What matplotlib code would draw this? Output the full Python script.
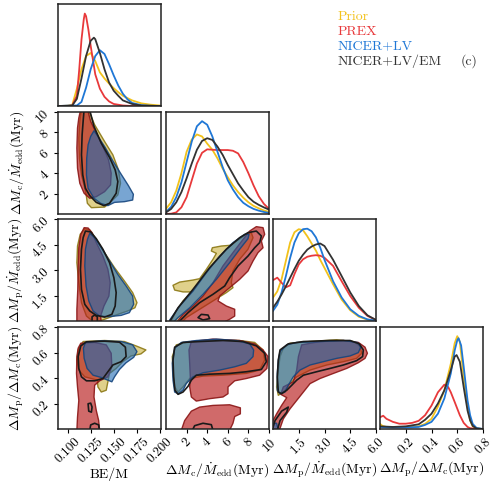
import matplotlib
matplotlib.use("Agg")
import matplotlib.pyplot as plt
from matplotlib.patches import Polygon
from matplotlib.colors import to_rgba

plt.rcParams["font.family"] = "serif"
plt.rcParams["font.serif"] = ["cmr10"]
plt.rcParams["mathtext.fontset"] = "cm"
plt.rcParams["axes.unicode_minus"] = False

# ---- axis setup --------------------------------------------------------
limits = [(0.0895, 0.2014), (0, 10), (0, 6), (0, 0.8)]
ticks = [[0.100, 0.125, 0.150, 0.175, 0.200], [2, 4, 6, 8, 10], [1.5, 3.0, 4.5, 6.0], [0.2, 0.4, 0.6, 0.8]]
tick_labels = [["0.100", "0.125", "0.150", "0.175", "0.200"], ["2", "4", "6", "8", "10"],
               ["1.5", "3.0", "4.5", "6.0"], ["0.2", "0.4", "0.6", "0.8"]]
axis_labels = [r"BE/M",
               r"$\Delta M_{\rm c}/\dot{M}_{\rm edd}({\rm Myr})$",
               r"$\Delta M_{\rm p}/\dot{M}_{\rm edd}({\rm Myr})$",
               r"$\Delta M_{\rm p}/\Delta M_{\rm c}({\rm Myr})$"]

names = ["Prior", "PREX", "NICER+LV", "NICER+LV/EM"]
line_colors = ["#f2c21b", "#e8393b", "#1f77d6", "#333333"]

# ---- 1D marginals (relative heights) ----------------------------------
bem_x_prior = [0.090, 0.100, 0.105, 0.110, 0.115, 0.120, 0.125, 0.130, 0.135, 0.140, 0.145, 0.150, 0.155, 0.160, 0.170, 0.180, 0.190, 0.200]
bem_y_prior = [0, 0.002, 0.01, 0.17, 0.36, 0.49, 0.52, 0.44, 0.33, 0.27, 0.22, 0.175, 0.135, 0.10, 0.055, 0.026, 0.013, 0.005]
bem_x_prex = [0.090, 0.100, 0.105, 0.110, 0.1125, 0.115, 0.1175, 0.1186, 0.120, 0.1225, 0.125, 0.130, 0.135, 0.140, 0.145, 0.150, 0.160, 0.170, 0.200]
bem_y_prex = [0, 0, 0.005, 0.10, 0.35, 0.65, 0.85, 0.906, 0.88, 0.75, 0.59, 0.31, 0.17, 0.09, 0.045, 0.02, 0.005, 0, 0]
bem_x_nicer = [0.090, 0.110, 0.115, 0.120, 0.125, 0.130, 0.135, 0.140, 0.145, 0.150, 0.155, 0.160, 0.165, 0.170, 0.180, 0.190, 0.200]
bem_y_nicer = [0, 0.005, 0.04, 0.18, 0.36, 0.49, 0.547, 0.51, 0.41, 0.30, 0.20, 0.12, 0.065, 0.03, 0.008, 0.002, 0]
bem_x_em = [0.090, 0.105, 0.110, 0.115, 0.120, 0.125, 0.1285, 0.130, 0.135, 0.140, 0.145, 0.150, 0.155, 0.160, 0.170, 0.180, 0.200]
bem_y_em = [0, 0.005, 0.07, 0.27, 0.49, 0.64, 0.67, 0.655, 0.52, 0.36, 0.23, 0.15, 0.10, 0.055, 0.02, 0.005, 0]

mc_x = [0, 0.5, 1, 1.5, 2, 2.5, 3, 3.5, 4, 4.5, 5, 5.5, 6, 6.5, 7, 7.5, 8, 8.5, 9, 9.5, 10]
mc_y_prior = [0.05, 0.115, 0.23, 0.40, 0.61, 0.73, 0.78, 0.76, 0.69, 0.63, 0.545, 0.445, 0.36, 0.28, 0.215, 0.16, 0.115, 0.08, 0.056, 0.035, 0.02]
mc_y_prex = [0, 0.003, 0.016, 0.066, 0.165, 0.33, 0.495, 0.60, 0.634, 0.63, 0.627, 0.627, 0.627, 0.62, 0.594, 0.51, 0.40, 0.28, 0.175, 0.10, 0.05]
mc_y_nicer = [0.02, 0.07, 0.165, 0.31, 0.51, 0.71, 0.86, 0.91, 0.875, 0.76, 0.61, 0.46, 0.33, 0.24, 0.165, 0.11, 0.076, 0.05, 0.033, 0.02, 0.01]
mc_y_em = [0.015, 0.05, 0.115, 0.215, 0.35, 0.495, 0.63, 0.716, 0.743, 0.726, 0.66, 0.58, 0.48, 0.39, 0.30, 0.23, 0.165, 0.12, 0.09, 0.065, 0.043]

mp_x = [0, 0.25, 0.5, 0.75, 1, 1.25, 1.5, 1.75, 2, 2.25, 2.5, 2.75, 3, 3.5, 4, 4.5, 5, 5.5, 6]
mp_y_prior = [0.23, 0.29, 0.41, 0.59, 0.77, 0.87, 0.90, 0.89, 0.83, 0.76, 0.69, 0.60, 0.52, 0.36, 0.21, 0.105, 0.042, 0.013, 0.003]
mp_y_prex = [0.40, 0.425, 0.375, 0.33, 0.35, 0.46, 0.555, 0.605, 0.63, 0.64, 0.645, 0.64, 0.62, 0.54, 0.39, 0.245, 0.13, 0.05, 0.01]
mp_y_nicer = [0.10, 0.16, 0.28, 0.44, 0.62, 0.77, 0.86, 0.90, 0.905, 0.88, 0.82, 0.72, 0.60, 0.39, 0.23, 0.115, 0.05, 0.016, 0.003]
mp_y_em = [0.13, 0.19, 0.26, 0.34, 0.425, 0.51, 0.59, 0.65, 0.70, 0.73, 0.75, 0.76, 0.735, 0.60, 0.44, 0.28, 0.147, 0.056, 0.01]

r_x_prior = [0, 0.02, 0.05, 0.1, 0.2, 0.3, 0.35, 0.4, 0.45, 0.5, 0.55, 0.58, 0.6, 0.62, 0.65, 0.68, 0.7, 0.72, 0.75, 0.8]
r_y_prior = [0.05, 0.03, 0.02, 0.02, 0.02, 0.026, 0.05, 0.10, 0.22, 0.38, 0.64, 0.84, 0.91, 0.855, 0.51, 0.22, 0.085, 0.026, 0.005, 0]
r_x_prex = [0, 0.025, 0.05, 0.1, 0.15, 0.2, 0.25, 0.3, 0.35, 0.4, 0.45, 0.5, 0.53, 0.55, 0.58, 0.6, 0.62, 0.65, 0.68, 0.7, 0.75, 0.8]
r_y_prex = [0.115, 0.13, 0.10, 0.07, 0.052, 0.052, 0.06, 0.08, 0.135, 0.23, 0.36, 0.435, 0.41, 0.36, 0.265, 0.20, 0.135, 0.06, 0.02, 0.008, 0, 0]
r_x_nicer = [0, 0.1, 0.2, 0.3, 0.35, 0.4, 0.45, 0.5, 0.55, 0.58, 0.6, 0.61, 0.63, 0.65, 0.68, 0.7, 0.72, 0.75, 0.8]
r_y_nicer = [0.02, 0.015, 0.015, 0.02, 0.04, 0.07, 0.15, 0.30, 0.545, 0.77, 0.87, 0.89, 0.82, 0.61, 0.28, 0.135, 0.05, 0.01, 0]
r_x_em = [0, 0.1, 0.2, 0.3, 0.35, 0.4, 0.45, 0.5, 0.55, 0.58, 0.595, 0.62, 0.65, 0.68, 0.7, 0.72, 0.75, 0.8]
r_y_em = [0.026, 0.02, 0.026, 0.046, 0.09, 0.15, 0.25, 0.38, 0.577, 0.71, 0.725, 0.66, 0.41, 0.18, 0.085, 0.03, 0.005, 0]

# ---- 2D credible regions (outlines) ------------------------------------
bm_mc_prior = [(0.1150, 10.3), (0.1222, 10.3), (0.1293, 8.75), (0.1401, 7.11), (0.1491, 5.80), (0.1552, 4.33), (0.1574, 3.01), (0.1545, 1.87), (0.1455, 1.05), (0.1401, 0.68), (0.1258, 0.62), (0.1214, 1.05), (0.1204, 1.70), (0.1186, 2.52), (0.1150, 3.83), (0.1128, 5.47), (0.1121, 7.44), (0.1132, 9.08)]
bm_mc_prex = [(0.1143, 10.3), (0.1215, 10.3), (0.1250, 9.08), (0.1311, 7.93), (0.1383, 6.62), (0.1444, 5.31), (0.1473, 4.00), (0.1466, 2.85), (0.1401, 2.19), (0.1311, 1.70), (0.1240, 1.54), (0.1179, 2.03), (0.1132, 3.01), (0.1107, 4.49), (0.1100, 6.46), (0.1107, 8.43), (0.1121, 9.41)]
bm_mc_nicer = [(0.1286, 8.16), (0.1337, 7.51), (0.1408, 6.52), (0.1491, 5.21), (0.1581, 3.90), (0.1660, 2.78), (0.1714, 1.93), (0.1706, 1.37), (0.1617, 1.21), (0.1509, 1.14), (0.1437, 0.82), (0.1358, 1.05), (0.1286, 1.54), (0.1222, 2.52), (0.1204, 3.83), (0.1207, 5.47), (0.1222, 6.79), (0.1250, 7.61)]
bm_mc_em = [(0.1179, 10.3), (0.1236, 10.3), (0.1286, 8.59), (0.1365, 6.95), (0.1455, 5.54), (0.1516, 4.33), (0.1545, 3.18), (0.1527, 2.03), (0.1455, 1.05), (0.1394, 0.82), (0.1311, 1.14), (0.1240, 1.80), (0.1193, 2.52), (0.1164, 3.83), (0.1150, 5.80), (0.1157, 7.77), (0.1168, 9.08)]

bm_mp_prior = [(0.1186, 5.43), (0.1240, 5.35), (0.1311, 4.80), (0.1401, 4.02), (0.1509, 3.14), (0.1617, 2.35), (0.1706, 1.67), (0.1753, 1.08), (0.1731, 0.78), (0.1652, 0.59), (0.1545, 0.39), (0.1401, 0.10), (0.1293, -0.1), (0.1204, 0.29), (0.1150, 1.08), (0.1121, 2.25), (0.1100, 3.43), (0.1107, 4.41), (0.1136, 5.10)]
bm_mp_prex = [(0.1179, 5.49), (0.1222, 5.47), (0.1265, 5.20), (0.1311, 4.61), (0.1383, 3.82), (0.1437, 3.04), (0.1462, 2.25), (0.1448, 1.47), (0.1394, 0.88), (0.1358, 0.29), (0.1365, -0.1), (0.1100, -0.1), (0.1100, 0.69), (0.1110, 1.86), (0.1114, 3.24), (0.1121, 4.31), (0.1143, 5.10)]
bm_mp_nicer = [(0.1240, 5.16), (0.1293, 4.90), (0.1365, 4.31), (0.1455, 3.53), (0.1545, 2.74), (0.1635, 2.06), (0.1706, 1.47), (0.1717, 0.98), (0.1670, 0.49), (0.1581, 0.33), (0.1437, 0.25), (0.1347, 0.29), (0.1276, 0.59), (0.1229, 1.18), (0.1200, 2.06), (0.1186, 3.24), (0.1193, 4.22), (0.1215, 4.80)]
bm_mp_em = [(0.1193, 5.29), (0.1250, 5.24), (0.1311, 4.84), (0.1383, 4.22), (0.1455, 3.43), (0.1502, 2.55), (0.1527, 1.67), (0.1516, 0.88), (0.1480, 0.39), (0.1401, 0.23), (0.1311, 0.33), (0.1240, 0.59), (0.1186, 0.98), (0.1150, 1.86), (0.1139, 3.04), (0.1150, 4.22), (0.1168, 4.90)]
bm_mp_em2 = [(0.1265, -0.1), (0.1265, 0.25), (0.1293, 0.35), (0.1322, 0.25), (0.1322, -0.1)]

mc_mp_prior = [(0.42, -0.1), (1.00, 0.59), (1.65, 1.18), (2.46, 1.71), (1.65, 1.71), (0.84, 1.82), (0.68, 2.10), (1.33, 2.29), (2.62, 2.41), (3.27, 2.49), (3.92, 3.04), (4.56, 3.63), (4.89, 3.98), (4.40, 4.12), (4.50, 4.31), (5.37, 4.41), (6.18, 4.45), (6.99, 4.76), (7.80, 5.10), (8.28, 5.20), (8.45, 4.90), (7.96, 4.22), (7.15, 3.63), (6.50, 2.94), (6.34, 2.25), (6.50, 1.96), (5.86, 1.67), (4.56, 1.18), (3.27, 0.69), (1.97, 0.20), (1.49, -0.1)]
mc_mp_prex = [(1.00, -0.1), (1.65, 0.39), (2.62, 0.88), (3.59, 1.47), (4.56, 2.25), (5.53, 3.24), (6.50, 4.02), (7.48, 4.80), (8.12, 5.29), (8.77, 5.55), (9.42, 5.49), (9.58, 5.10), (9.26, 4.71), (9.42, 4.31), (8.93, 4.02), (8.45, 3.53), (7.96, 2.94), (7.15, 2.45), (6.18, 1.96), (5.21, 1.47), (5.05, 1.18), (5.86, 0.88), (6.67, 0.69), (6.67, 0.29), (6.18, 0.10), (5.53, -0.1)]
mc_mp_nicer = [(0.36, 0.06), (1.33, 0.88), (2.62, 1.76), (3.92, 2.84), (5.21, 3.82), (6.50, 4.61), (7.64, 5.10), (8.06, 5.10), (7.96, 4.84), (7.15, 4.22), (6.18, 3.43), (4.89, 2.45), (3.59, 1.57), (2.30, 0.78), (1.17, 0.20), (0.68, -0.1)]
mc_mp_em = [(0.29, -0.1), (1.17, 0.78), (2.62, 1.86), (4.24, 3.14), (5.86, 4.22), (7.15, 4.90), (7.96, 5.20), (8.77, 5.29), (9.26, 5.00), (9.09, 4.61), (8.61, 4.31), (7.96, 3.82), (6.99, 3.24), (6.18, 2.55), (5.70, 2.06), (4.56, 1.57), (3.27, 1.08), (2.14, 0.49), (1.17, -0.1)]
mc_mp_em2 = [(3.11, 0.20), (3.43, 0.39), (4.08, 0.35), (4.24, 0.14), (3.59, 0.06)]

bm_r_prior = [(0.1168, 0.686), (0.1401, 0.694), (0.1617, 0.686), (0.1742, 0.652), (0.1850, 0.620), (0.1796, 0.589), (0.1688, 0.573), (0.1599, 0.528), (0.1527, 0.475), (0.1455, 0.436), (0.1437, 0.370), (0.1419, 0.304), (0.1365, 0.290), (0.1329, 0.330), (0.1322, 0.383), (0.1258, 0.396), (0.1186, 0.409), (0.1121, 0.462), (0.1100, 0.541), (0.1114, 0.620)]
bm_r_prex = [(0.1143, 0.673), (0.1293, 0.679), (0.1419, 0.660), (0.1473, 0.594), (0.1480, 0.488), (0.1437, 0.409), (0.1347, 0.378), (0.1293, 0.343), (0.1286, 0.251), (0.1311, 0.145), (0.1337, 0.066), (0.1347, -0.01), (0.1100, -0.01), (0.1107, 0.093), (0.1121, 0.224), (0.1107, 0.330), (0.1096, 0.436), (0.1100, 0.568), (0.1114, 0.634)]
bm_r_nicer = [(0.1193, 0.679), (0.1365, 0.692), (0.1581, 0.686), (0.1706, 0.660), (0.1753, 0.607), (0.1717, 0.562), (0.1635, 0.520), (0.1563, 0.467), (0.1509, 0.409), (0.1480, 0.370), (0.1437, 0.383), (0.1365, 0.404), (0.1276, 0.422), (0.1211, 0.475), (0.1179, 0.554), (0.1171, 0.634)]
bm_r_em = [(0.1143, 0.652), (0.1204, 0.684), (0.1401, 0.689), (0.1563, 0.681), (0.1627, 0.642), (0.1635, 0.568), (0.1581, 0.528), (0.1491, 0.502), (0.1437, 0.449), (0.1383, 0.396), (0.1293, 0.378), (0.1204, 0.378), (0.1150, 0.409), (0.1121, 0.475), (0.1114, 0.568)]
bm_r_em2 = [(0.1222, 0.198), (0.1250, 0.203), (0.1265, 0.172), (0.1258, 0.132), (0.1229, 0.140)]
bm_r_em3 = [(0.1240, -0.01), (0.1250, 0.032), (0.1293, 0.045), (0.1337, 0.032), (0.1344, -0.01)]

mc_r_prior = [(1.00, 0.660), (1.97, 0.679), (4.56, 0.700), (7.15, 0.694), (8.61, 0.679), (9.42, 0.620), (9.58, 0.541), (9.09, 0.462), (7.80, 0.436), (5.53, 0.422), (3.59, 0.415), (2.30, 0.396), (1.65, 0.330), (1.17, 0.290), (0.84, 0.330), (0.68, 0.462), (0.61, 0.568)]
mc_r_prex = [(2.46, 0.686), (4.56, 0.705), (7.15, 0.694), (8.61, 0.668), (9.42, 0.620), (9.90, 0.568), (9.80, 0.475), (9.09, 0.422), (7.80, 0.396), (6.67, 0.378), (6.02, 0.330), (6.02, 0.277), (5.53, 0.251), (4.24, 0.238), (2.94, 0.219), (2.46, 0.251), (2.30, 0.330), (2.36, 0.409), (2.30, 0.515), (2.23, 0.620)]
mc_r_prex2 = [(1.49, -0.01), (1.81, 0.066), (2.46, 0.140), (3.27, 0.172), (4.56, 0.185), (6.18, 0.190), (7.22, 0.166), (7.22, 0.119), (6.67, 0.098), (6.50, 0.045), (6.18, -0.01)]
mc_r_nicer = [(0.84, 0.634), (1.49, 0.679), (2.94, 0.694), (4.89, 0.705), (6.83, 0.694), (8.12, 0.668), (8.51, 0.620), (8.45, 0.568), (7.80, 0.515), (6.67, 0.488), (5.21, 0.462), (3.59, 0.441), (2.62, 0.409), (1.97, 0.356), (1.65, 0.304), (1.17, 0.277), (0.84, 0.290), (0.68, 0.383), (0.61, 0.515)]
mc_r_em = [(0.84, 0.642), (1.65, 0.679), (3.27, 0.686), (5.53, 0.694), (7.48, 0.686), (8.77, 0.652), (9.58, 0.594), (9.74, 0.528), (9.26, 0.467), (7.80, 0.449), (6.18, 0.436), (4.24, 0.430), (2.94, 0.422), (2.46, 0.383), (2.14, 0.335), (1.65, 0.290), (1.17, 0.272), (0.87, 0.304), (0.74, 0.409), (0.68, 0.541)]
mc_r_em2 = [(2.56, -0.01), (2.78, 0.026), (3.59, 0.045), (4.40, 0.034), (4.56, -0.01)]

mp_r_prior = [(0.60, 0.634), (0.99, 0.673), (2.16, 0.686), (3.71, 0.700), (4.68, 0.686), (5.07, 0.647), (5.17, 0.594), (4.87, 0.554), (4.10, 0.528), (3.13, 0.502), (2.16, 0.462), (1.38, 0.409), (0.99, 0.356), (0.70, 0.304), (0.31, 0.264), (0.21, 0.330), (0.31, 0.462), (0.41, 0.568)]
mp_r_prex = [(1.67, 0.660), (2.74, 0.686), (4.10, 0.694), (4.97, 0.679), (5.36, 0.642), (5.50, 0.594), (5.36, 0.554), (4.97, 0.520), (4.29, 0.475), (3.52, 0.436), (2.74, 0.396), (2.16, 0.356), (1.77, 0.290), (1.38, 0.224), (0.99, 0.158), (0.60, 0.079), (0.37, -0.01), (-0.05, -0.01), (-0.05, 0.053), (0.21, 0.119), (0.50, 0.185), (0.80, 0.246), (0.45, 0.272), (0.60, 0.330), (1.18, 0.370), (1.38, 0.462), (1.48, 0.568)]
mp_r_nicer = [(0.41, 0.607), (0.80, 0.660), (1.38, 0.679), (2.74, 0.686), (4.10, 0.694), (4.91, 0.679), (5.11, 0.642), (4.97, 0.599), (4.49, 0.573), (3.71, 0.554), (2.93, 0.528), (2.16, 0.502), (1.57, 0.462), (1.18, 0.409), (0.89, 0.343), (0.70, 0.290), (0.41, 0.277), (0.25, 0.304), (0.25, 0.436), (0.31, 0.541)]
mp_r_nicer2 = [(-0.05, -0.01), (-0.05, 0.045), (0.21, 0.045), (0.31, -0.01)]
mp_r_em = [(0.41, 0.620), (0.89, 0.668), (1.77, 0.686), (3.32, 0.694), (4.49, 0.694), (5.03, 0.668), (5.26, 0.620), (5.22, 0.568), (4.87, 0.536), (4.10, 0.502), (3.32, 0.475), (2.54, 0.449), (1.77, 0.422), (1.38, 0.383), (1.09, 0.343), (0.80, 0.304), (0.50, 0.277), (0.31, 0.290), (0.25, 0.409), (0.31, 0.541)]
mp_r_em2 = [(-0.05, -0.01), (0.12, 0.066), (0.50, 0.140), (0.89, 0.172), (0.80, 0.132), (0.41, 0.066), (0.25, -0.01)]

# fill colour, alpha, edge colour for the filled sets; EM is outline only
fill_style = {
    "prior": ("#c3a519", 0.5, "#8c7814"),
    "prex": ("#b81a1a", 0.65, "#8b1515"),
    "nicer": ("#1e69b4", 0.6, "#16467e"),
}

diagonals = {
    0: [(bem_x_prior, bem_y_prior), (bem_x_prex, bem_y_prex), (bem_x_nicer, bem_y_nicer), (bem_x_em, bem_y_em)],
    1: [(mc_x, mc_y_prior), (mc_x, mc_y_prex), (mc_x, mc_y_nicer), (mc_x, mc_y_em)],
    2: [(mp_x, mp_y_prior), (mp_x, mp_y_prex), (mp_x, mp_y_nicer), (mp_x, mp_y_em)],
    3: [(r_x_prior, r_y_prior), (r_x_prex, r_y_prex), (r_x_nicer, r_y_nicer), (r_x_em, r_y_em)],
}

panels = {
    (1, 0): [("prior", bm_mc_prior), ("prex", bm_mc_prex), ("nicer", bm_mc_nicer), ("em", bm_mc_em)],
    (2, 0): [("prior", bm_mp_prior), ("prex", bm_mp_prex), ("nicer", bm_mp_nicer), ("em", bm_mp_em), ("em", bm_mp_em2)],
    (2, 1): [("prior", mc_mp_prior), ("prex", mc_mp_prex), ("nicer", mc_mp_nicer), ("em", mc_mp_em), ("em", mc_mp_em2)],
    (3, 0): [("prior", bm_r_prior), ("prex", bm_r_prex), ("nicer", bm_r_nicer), ("em", bm_r_em), ("em", bm_r_em2), ("em", bm_r_em3)],
    (3, 1): [("prior", mc_r_prior), ("prex", mc_r_prex), ("prex", mc_r_prex2), ("nicer", mc_r_nicer), ("em", mc_r_em), ("em", mc_r_em2)],
    (3, 2): [("prior", mp_r_prior), ("prex", mp_r_prex), ("nicer", mp_r_nicer), ("nicer", mp_r_nicer2), ("em", mp_r_em), ("em", mp_r_em2)],
}


def draw_regions(ax, regions):
    for kind, poly in regions:
        if kind == "em":
            patch = Polygon(poly, closed=True, facecolor="none", edgecolor="#1a1a1a", lw=1.2, joinstyle="round")
        else:
            fc, alpha, ec = fill_style[kind]
            patch = Polygon(poly, closed=True, facecolor=to_rgba(fc, alpha), edgecolor=to_rgba(ec, 0.9), lw=1.0, joinstyle="round")
        ax.add_patch(patch)


def style_axes(ax, row, col):
    ax.set_xlim(limits[col])
    if row == col:
        ax.set_ylim(0, 1.0)
    else:
        ax.set_ylim(limits[row])
    ax.tick_params(direction="out", length=3, width=0.8, labelsize=9.5, pad=2)
    for s in ax.spines.values():
        s.set_linewidth(1.1)
        s.set_color("#222222")
    if row == 3:
        ax.set_xticks(ticks[col])
        ax.set_xticklabels(tick_labels[col], rotation=45)
        ax.set_xlabel(axis_labels[col], fontsize=10)
        ax.xaxis.set_label_coords(0.5, -0.38 if col == 0 else -0.30)
    else:
        ax.set_xticks([])
    if col == 0 and row > 0:
        ax.set_yticks(ticks[row])
        ax.set_yticklabels(tick_labels[row], rotation=45)
        ax.set_ylabel(axis_labels[row], fontsize=10)
        ax.yaxis.set_label_coords(-0.31, 0.5)
    else:
        ax.set_yticks([])


fig = plt.figure(figsize=(4.99, 4.95), dpi=100)

W, H = 499.0, 495.0
col_left = [58, 166, 273, 380]
row_top = [4, 112, 219, 327]
cell_w, cell_h = 103, 102

for row in range(4):
    for col in range(row + 1):
        ax = fig.add_axes([col_left[col] / W, 1 - (row_top[row] + cell_h) / H, cell_w / W, cell_h / H])
        if row == col:
            for (xs, ys), c in zip(diagonals[row], line_colors):
                ax.plot(xs, ys, color=c, lw=1.3)
        else:
            draw_regions(ax, panels[(row, col)])
        style_axes(ax, row, col)

# legend as coloured text
legend_x = 338 / W
baselines = [20, 35, 49.5, 64.5]
for name, c, b in zip(names, line_colors, baselines):
    fig.text(legend_x, 1 - b / H, name, color=c, fontsize=10, va="baseline", ha="left")
fig.text(461 / W, 1 - 64.5 / H, "(c)", color="#333333", fontsize=10, va="baseline", ha="left")

fig.savefig("out.png", dpi=100)
